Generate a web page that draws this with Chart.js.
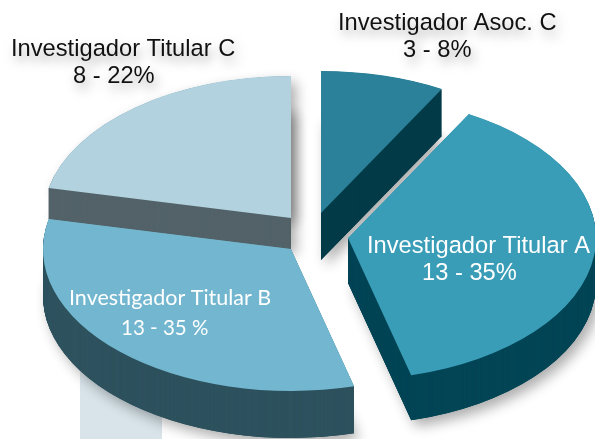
<!DOCTYPE html>
<html>
<head>
<meta charset="utf-8">
<style>
html,body{margin:0;padding:0;background:#fff;width:595px;height:439px;overflow:hidden}
canvas{display:block}
</style>
<script src="https://cdn.jsdelivr.net/npm/chart.js@4"></script>
</head>
<body>
<canvas id="c" width="595" height="439"></canvas>
<script>
// Categories and the figures printed on the chart.
const categories = ['Investigador Asoc. C', 'Investigador Titular A', 'Investigador Titular B', 'Investigador Titular C'];
const counts = ['3', '13', '13', '8'];
const percentText = ['8%', '35%', '35 %', '22%'];
// Share of the circle each slice actually occupies in the picture.
const drawnShares = [8.1, 37.8, 32.5, 21.6];

const topColors = ['#2a8199', '#3a9db8', '#72b7cf', '#b2d2df'];
const wallColors = ['#033a47', '#044656', '#2e525e', '#536369'];

// Presentation of the exploded 3D pie, per slice.
const sliceCentreX = [321, 348, 291, 291];
const sliceCentreY = [213, 238, 249, 218];
const sliceDepth = [47, 45, 47, 31];
const radiusX = 248;
const radiusY = 142;

const labelStyle = [
  {font:'23.7px "Liberation Sans"', font2:'23.7px "Liberation Sans"', color:'#111', shadow:true,  x:[338,403], y:[30,57]},
  {font:'23.7px "Liberation Sans"', font2:'23.7px "Liberation Sans"', color:'#fff', shadow:false, x:[367,422], y:[253,280]},
  {font:'21.5px Lato', font2:'20.5px Lato', color:'#fff', shadow:false, x:[69,121],  y:[305,335]},
  {font:'23.7px "Liberation Sans"', font2:'23.7px "Liberation Sans"', color:'#111', shadow:true,  x:[11,73],   y:[56,83]}
];

function drawSlice(ctx, el, i, color, dy, shadow) {
  const R = el.outerRadius;
  const saved = el.options;
  el.options = Object.assign({}, saved, {backgroundColor: color, borderWidth: 0});
  ctx.save();
  if (shadow) {
    ctx.shadowColor = 'rgba(0,0,0,0.33)';
    ctx.shadowBlur = 13;
    ctx.shadowOffsetX = 5;
    ctx.shadowOffsetY = 6;
  }
  ctx.translate(sliceCentreX[i], sliceCentreY[i] + dy);
  ctx.scale(radiusX / R, radiusY / R);
  ctx.translate(-el.x, -el.y);
  el.draw(ctx);
  ctx.restore();
  el.options = saved;
}

function drawWall(ctx, el, i) {
  for (let d = sliceDepth[i]; d > 0; d -= 0.5) drawSlice(ctx, el, i, wallColors[i], d, false);
}

function drawSolid(ctx, el, i) {
  drawSlice(ctx, el, i, wallColors[i], sliceDepth[i], true);
  drawWall(ctx, el, i);
}

const pie3d = {
  id: 'pie3d',
  beforeDatasetDraw(chart) {
    const ctx = chart.ctx;
    const arcs = chart.getDatasetMeta(0).data;
    // pale strip behind the pie
    ctx.fillStyle = '#d8e4ea';
    ctx.fillRect(80, 350, 82, 89);
    // back-left slices first; the top of slice C casts its shadow, then its wall is repainted clean
    drawSolid(ctx, arcs[3], 3);
    drawSlice(ctx, arcs[3], 3, topColors[3], 0, true);
    drawWall(ctx, arcs[3], 3);
    drawSolid(ctx, arcs[2], 2);
    drawSlice(ctx, arcs[2], 2, topColors[2], 0, false);
    drawSlice(ctx, arcs[3], 3, topColors[3], 0, false);
    drawSolid(ctx, arcs[0], 0);
    drawSlice(ctx, arcs[0], 0, topColors[0], 0, false);
    drawSolid(ctx, arcs[1], 1);
    drawSlice(ctx, arcs[1], 1, topColors[1], 0, false);
    return false;
  },
  afterDatasetsDraw(chart) {
    const ctx = chart.ctx;
    categories.forEach((name, i) => {
      const s = labelStyle[i];
      ctx.save();
      ctx.fillStyle = s.color;
      ctx.textBaseline = 'alphabetic';
      ctx.textAlign = 'left';
      if (s.shadow) {
        ctx.shadowColor = 'rgba(0,0,0,0.36)';
        ctx.shadowBlur = 12;
        ctx.shadowOffsetX = 3;
        ctx.shadowOffsetY = 6;
      }
      ctx.font = s.font;
      ctx.fillText(name, s.x[0], s.y[0]);
      ctx.font = s.font2;
      ctx.fillText(counts[i] + ' - ' + percentText[i], s.x[1], s.y[1]);
      ctx.restore();
    });
  }
};

new Chart(document.getElementById('c'), {
  type: 'pie',
  data: {
    labels: categories,
    datasets: [{data: drawnShares, backgroundColor: topColors, borderWidth: 0}]
  },
  options: {
    responsive: false,
    animation: false,
    events: [],
    layout: {padding: 0},
    plugins: {legend: {display: false}, tooltip: {enabled: false}, title: {display: false}}
  },
  plugins: [pie3d]
});
</script>
</body>
</html>
